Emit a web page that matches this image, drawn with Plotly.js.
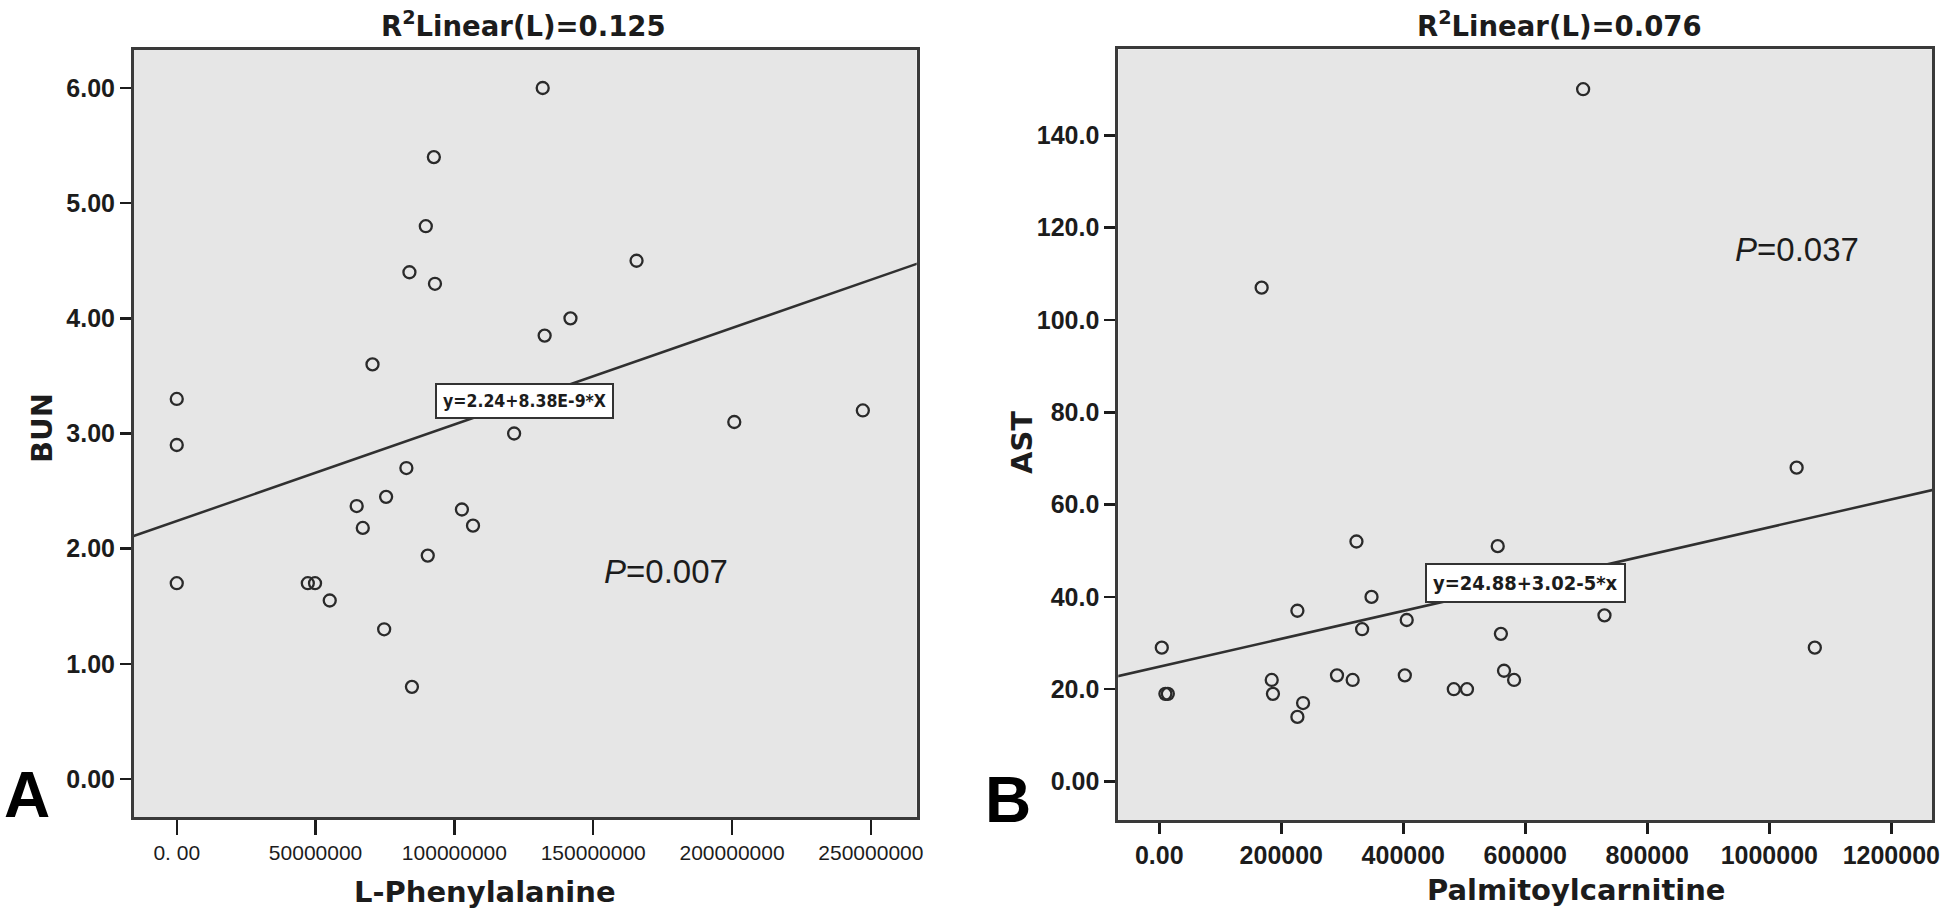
<!DOCTYPE html>
<html>
<head>
<meta charset="utf-8">
<script src="https://cdn.plot.ly/plotly-3.0.1.min.js"></script>
<style>
html,body{margin:0;padding:0;background:#fff;}
#chart{width:1944px;height:913px;}
</style>
</head>
<body>
<div id="chart"></div>
<script>
// ---------- Data ----------
// Panel A: L-Phenylalanine vs BUN
const pheX = [131.8e6, 92.6e6, 89.7e6, 83.8e6, 93.0e6, 165.6e6, 141.8e6, 132.5e6, 70.5e6, 0, 0, 200.8e6, 247.1e6, 121.5e6,
              82.7e6, 75.4e6, 64.8e6, 67.0e6, 102.7e6, 106.7e6, 90.4e6, 0, 47.2e6, 49.8e6, 55.1e6, 74.7e6, 84.7e6];
const bunY = [6.0, 5.4, 4.8, 4.4, 4.3, 4.5, 4.0, 3.85, 3.6, 3.3, 2.9, 3.1, 3.2, 3.0,
              2.7, 2.45, 2.37, 2.18, 2.34, 2.2, 1.94, 1.7, 1.7, 1.7, 1.55, 1.3, 0.8];
const fitA = {intercept: 2.24, slope: 8.38e-9};
const eqA = "y=2.24+8.38E-9*X";
const titleA = "R<sup>2</sup>Linear(L)=0.125";
const pA = "<i>P</i>=0.007";
const xTicksA = [0, 50000000, 100000000, 150000000, 200000000, 250000000];
const xTickTextA = ["0. 00", "50000000", "100000000", "150000000", "200000000", "250000000"];
const yTicksA = [0, 1, 2, 3, 4, 5, 6];
const yTickTextA = ["0.00", "1.00", "2.00", "3.00", "4.00", "5.00", "6.00"];

// Panel B: Palmitoylcarnitine vs AST
const palX = [694.8e3, 167.8e3, 1044.8e3, 4.1e3, 10e3, 14e3, 184.3e3, 186.3e3, 226.4e3, 226.4e3, 235.7e3, 291.3e3, 317e3,
              323.2e3, 332.5e3, 347.9e3, 405.6e3, 402.5e3, 482.8e3, 504.4e3, 554.8e3, 560e3, 565.1e3, 581.6e3, 729.8e3, 1074.6e3];
const astY = [150, 107, 68, 29, 19, 19, 22, 19, 37, 14, 17, 23, 22,
              52, 33, 40, 35, 23, 20, 20, 51, 32, 24, 22, 36, 29];
const fitB = {intercept: 24.88, slope: 3.02e-5};
const eqB = "y=24.88+3.02-5*x";
const titleB = "R<sup>2</sup>Linear(L)=0.076";
const pB = "<i>P</i>=0.037";
const xTicksB = [0, 200000, 400000, 600000, 800000, 1000000, 1200000];
const xTickTextB = ["0.00", "200000", "400000", "600000", "800000", "1000000", "1200000"];
const yTicksB = [0, 20, 40, 60, 80, 100, 120, 140];
const yTickTextB = ["0.00", "20.0", "40.0", "60.0", "80.0", "100.0", "120.0", "140.0"];

// ---------- Layout helpers ----------
const W = 1944, H = 913;
const px = v => v / W;
const py = v => 1 - v / H;

const rangeXA = [-15.4e6, 266.5e6], rangeYA = [-0.33, 6.33];
const rangeXB = [-67.2e3, 1266.7e3], rangeYB = [-8.34, 158.65];

const INK = '#1c1c1c';
const FRAME = '#3a3a3a';
const BG = '#e6e6e6';
const SANS = 'Liberation Sans, Arial, Helvetica, sans-serif';
const WIDE = 'DejaVu Sans, Verdana, sans-serif';
const NARROW = "'Liberation Sans Narrow', 'Arial Narrow', 'DejaVu Sans Condensed', sans-serif";

function fitLine(fit, range, xa, ya) {
  const span = range[1] - range[0];
  const xs = [range[0] - span * 0.05, range[1] + span * 0.05];
  return {
    x: xs, y: xs.map(v => fit.intercept + fit.slope * v),
    xaxis: xa, yaxis: ya, type: 'scatter', mode: 'lines',
    line: {color: '#303030', width: 2.5}, hoverinfo: 'skip', showlegend: false
  };
}
function pts(xs, ys, xa, ya) {
  return {
    x: xs, y: ys, xaxis: xa, yaxis: ya, type: 'scatter', mode: 'markers',
    marker: {symbol: 'circle-open', size: 12, color: '#2a2a2a', line: {width: 2.3, color: '#2a2a2a'}},
    showlegend: false, cliponaxis: true
  };
}

const data = [
  fitLine(fitA, rangeXA, 'x', 'y'),
  pts(pheX, bunY, 'x', 'y'),
  fitLine(fitB, rangeXB, 'x2', 'y2'),
  pts(palX, astY, 'x2', 'y2')
];

function axisBase(extra) {
  return Object.assign({
    showgrid: false, zeroline: false, showline: true, mirror: true,
    linecolor: FRAME, linewidth: 3, ticks: 'outside', tickcolor: INK, tickwidth: 2.5,
    fixedrange: true, automargin: false
  }, extra);
}

const layout = {
  width: W, height: H,
  margin: {l: 0, r: 0, t: 0, b: 0},
  paper_bgcolor: '#ffffff',
  plot_bgcolor: BG,
  showlegend: false,
  xaxis: axisBase({
    domain: [px(134), px(916.7)], range: rangeXA, anchor: 'y',
    tickvals: xTicksA, ticktext: xTickTextA, ticklen: 15,
    tickfont: {family: SANS, size: 21, color: INK}
  }),
  yaxis: axisBase({
    domain: [py(817), py(50)], range: rangeYA, anchor: 'x',
    tickvals: yTicksA, ticktext: yTickTextA, ticklen: 11,
    tickfont: {family: SANS, size: 25, color: INK, weight: 'bold'}
  }),
  xaxis2: axisBase({
    domain: [px(1118.3), px(1932)], range: rangeXB, anchor: 'y2',
    tickvals: xTicksB, ticktext: xTickTextB, ticklen: 11,
    tickfont: {family: SANS, size: 25, color: INK, weight: 'bold'}
  }),
  yaxis2: axisBase({
    domain: [py(820), py(49.3)], range: rangeYB, anchor: 'x2',
    tickvals: yTicksB, ticktext: yTickTextB, ticklen: 11,
    tickfont: {family: SANS, size: 25, color: INK, weight: 'bold'}
  }),
  annotations: [
    // titles
    {xref: 'paper', yref: 'paper', x: px(523), y: py(24), text: titleA, showarrow: false,
     xanchor: 'center', yanchor: 'middle', font: {family: WIDE, size: 27.5, color: INK, weight: 'bold'}},
    {xref: 'paper', yref: 'paper', x: px(1559), y: py(24), text: titleB, showarrow: false,
     xanchor: 'center', yanchor: 'middle', font: {family: WIDE, size: 27.5, color: INK, weight: 'bold'}},
    // axis titles
    {xref: 'paper', yref: 'paper', x: px(42), y: py(428), text: 'BUN', textangle: -90, showarrow: false,
     xanchor: 'center', yanchor: 'middle', font: {family: WIDE, size: 29, color: INK, weight: 'bold'}},
    {xref: 'paper', yref: 'paper', x: px(1022), y: py(442), text: 'AST', textangle: -90, showarrow: false,
     xanchor: 'center', yanchor: 'middle', font: {family: WIDE, size: 29, color: INK, weight: 'bold'}},
    {xref: 'paper', yref: 'paper', x: px(485), y: py(892), text: 'L-Phenylalanine', showarrow: false,
     xanchor: 'center', yanchor: 'middle', font: {family: WIDE, size: 29, color: INK, weight: 'bold'}},
    {xref: 'paper', yref: 'paper', x: px(1576), y: py(890), text: 'Palmitoylcarnitine', showarrow: false,
     xanchor: 'center', yanchor: 'middle', font: {family: WIDE, size: 29, color: INK, weight: 'bold'}},
    // panel letters
    {xref: 'paper', yref: 'paper', x: px(26.5), y: py(795), text: 'A', showarrow: false,
     xanchor: 'center', yanchor: 'middle', font: {family: SANS, size: 64, color: '#000', weight: 'bold'}},
    {xref: 'paper', yref: 'paper', x: px(1008), y: py(800), text: 'B', showarrow: false,
     xanchor: 'center', yanchor: 'middle', font: {family: SANS, size: 64, color: '#000', weight: 'bold'}},
    // equation boxes
    {xref: 'x', yref: 'y', x: 125.4e6, y: 3.284, text: eqA, showarrow: false,
     xanchor: 'center', yanchor: 'middle', bgcolor: '#ffffff', bordercolor: '#333', borderwidth: 2, borderpad: 6,
     font: {family: NARROW, size: 17.5, color: INK, weight: 'bold'}},
    {xref: 'x2', yref: 'y2', x: 600.3e3, y: 43.0, text: eqB, showarrow: false,
     xanchor: 'center', yanchor: 'middle', bgcolor: '#ffffff', bordercolor: '#333', borderwidth: 2, borderpad: 6,
     font: {family: NARROW, size: 20, color: INK, weight: 'bold'}},
    // P values
    {xref: 'x', yref: 'y', x: 176.2e6, y: 1.80, text: pA, showarrow: false,
     xanchor: 'center', yanchor: 'middle', font: {family: SANS, size: 33, color: INK}},
    {xref: 'x2', yref: 'y2', x: 1045.4e3, y: 115.2, text: pB, showarrow: false,
     xanchor: 'center', yanchor: 'middle', font: {family: SANS, size: 33, color: INK}}
  ]
};

Plotly.newPlot('chart', data, layout, {displayModeBar: false, staticPlot: true});
</script>
</body>
</html>
